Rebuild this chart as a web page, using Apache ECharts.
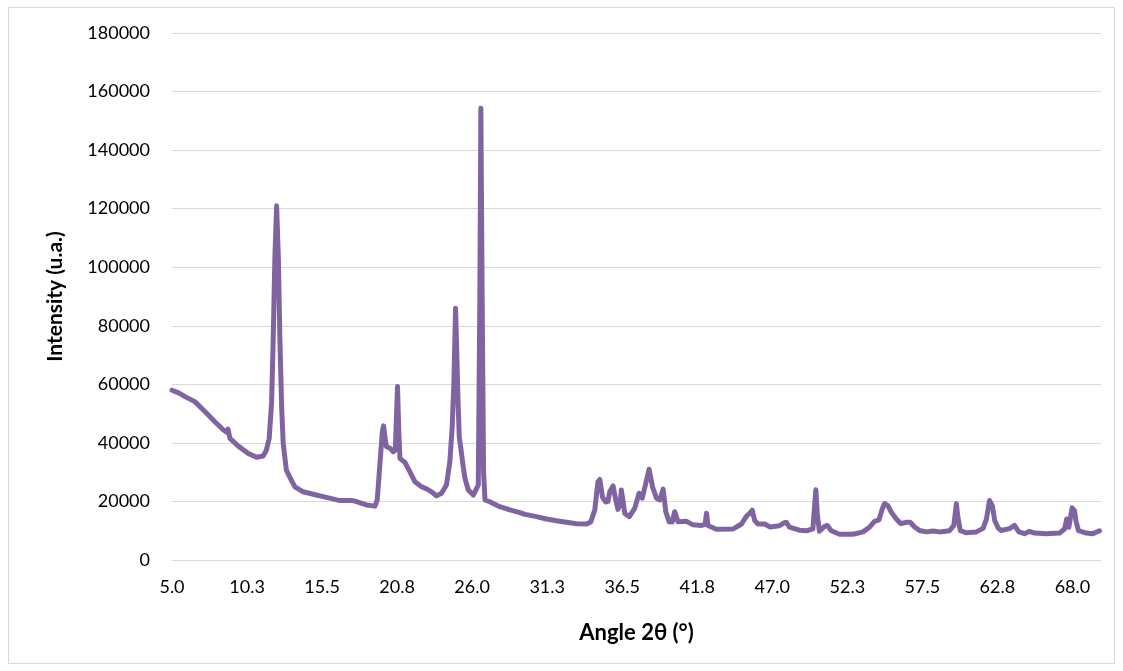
<!DOCTYPE html>
<html>
<head>
<meta charset="utf-8">
<script src="https://cdn.jsdelivr.net/npm/echarts@6/dist/echarts.min.js"></script>
<style>
html,body{margin:0;padding:0;background:#fff;}
#chart{width:1123px;height:671px;}
</style>
</head>
<body>
<div id="chart"></div>
<script>
// Angle 2θ (°)
const angles = [
5.0,5.5,5.91,6.6,7.3,8.0,8.6,8.85,8.92,9.05,9.64,10.34,10.92,11.38,11.6,11.8,11.97,12.08,12.2,12.32,
12.44,12.55,12.67,12.78,13.0,13.25,13.6,14.18,15.1,15.8,16.75,17.6,17.68,17.8,18.6,19.2,19.36,19.55,19.72,19.8,
19.9,20.0,20.25,20.48,20.62,20.7,20.78,20.86,20.95,21.3,21.64,22.0,22.46,22.85,22.95,23.16,23.5,23.86,24.2,24.44,
24.6,24.72,24.84,24.93,25.0,25.1,25.2,25.3,25.4,25.5,25.73,26.08,26.43,26.54,26.61,26.7,26.8,26.9,27.24,27.36,
27.47,27.94,28.64,29.34,29.7,29.8,30.5,31.2,31.9,32.6,33.3,34.0,34.3,34.58,34.8,34.93,35.12,35.35,35.5,35.63,
35.86,36.05,36.2,36.35,36.44,36.56,36.68,37.0,37.38,37.68,37.9,38.15,38.38,38.62,38.9,39.13,39.36,39.55,39.78,40.0,
40.17,40.4,41.0,41.46,42.04,42.3,42.4,42.5,43.1,44.27,44.85,45.2,45.43,45.6,45.77,46.0,46.47,46.82,47.5,47.86,
48.0,48.2,48.9,49.4,49.84,49.97,50.05,50.15,50.2,50.3,50.43,50.66,50.85,51.13,51.7,52.65,53.35,53.8,54.16,54.46,
54.7,54.86,55.1,55.33,55.68,56.0,56.4,56.65,56.96,57.3,57.8,58.24,58.7,59.4,59.7,59.88,59.99,60.16,60.58,61.28,
61.75,61.98,62.2,62.4,62.56,62.8,63.0,63.6,63.95,64.25,64.65,65.0,65.35,66.17,67.1,67.45,67.6,67.75,67.98,68.15,
68.26,68.43,68.97,69.43,69.9
];
// Intensity (u.a.)
const intensities = [
58000,57000,55800,54100,50700,47200,44400,43600,44700,41600,38900,36400,35100,35500,37500,41500,54000,75200,103600,121000,
103600,75200,52400,39900,30700,28200,25000,23300,22200,21400,20300,20300,20900,20100,18800,18400,20500,33000,44000,45800,
42000,38700,38200,37000,37500,48000,59300,45000,34700,33300,30200,26700,25000,24200,24600,23300,21900,22800,25600,33600,
45000,60000,86000,70000,56400,42000,38500,38500,31000,27900,23900,22200,25600,90500,154300,90500,30000,20500,19900,19700,
19300,18200,17100,16200,15600,15900,14800,14000,13400,12900,12400,12300,13000,17100,26700,27500,21500,19800,20000,23300,
25300,20500,17300,19000,23900,23700,15900,14800,17700,22800,21100,26200,31000,25000,21100,20500,24200,16500,13100,13000,
16500,13100,13200,12000,11800,12200,16000,11800,10500,10600,12300,15000,16000,17000,13500,12300,12300,11300,11700,12800,
12800,11200,10200,10000,10600,19000,24000,15500,16000,9800,9200,11500,11800,10000,8800,8800,9600,11200,13200,13700,
17500,19300,18500,16300,14000,12400,12900,12900,11300,10100,9600,9900,9600,10000,11800,19200,14500,10000,9300,9600,
10800,13900,20300,18500,13500,11000,10100,10700,11800,9600,9000,9800,9200,9000,9200,10600,14000,11200,17800,16800,
13000,10000,9200,9000,10000
];
const yTicks = [0,20000,40000,60000,80000,100000,120000,140000,160000,180000];

const seriesData = angles.map((a, i) => [a, intensities[i]]);

const chart = echarts.init(document.getElementById('chart'), null, {renderer: 'canvas'});
const font = 'Lato, "Open Sans", sans-serif';
chart.setOption({
  animation: false,
  backgroundColor: '#ffffff',
  graphic: [{
    type: 'rect',
    shape: {x: 8.5, y: 7.5, width: 1106, height: 656},
    style: {fill: 'none', stroke: '#d9d9d9', lineWidth: 1},
    silent: true
  }],
  grid: {left: 172, right: 22, top: 33, bottom: 111, containLabel: false},
  xAxis: {
    type: 'value',
    min: 5,
    max: 70,
    interval: 5.25,
    name: 'Angle 2θ (°)',
    nameLocation: 'middle',
    nameGap: 62,
    nameTextStyle: {fontFamily: font, fontSize: 22, fontWeight: 'bold', color: '#000'},
    axisLine: {show: false},
    axisTick: {show: false},
    splitLine: {show: false},
    axisLabel: {
      fontFamily: font, fontSize: 18, color: '#000', margin: 18,
      showMaxLabel: false,
      formatter: v => Number(v).toFixed(1)
    }
  },
  yAxis: {
    type: 'value',
    min: yTicks[0],
    max: yTicks[yTicks.length - 1],
    interval: yTicks[1] - yTicks[0],
    name: 'Intensity (u.a.)',
    nameLocation: 'middle',
    nameGap: 106,
    nameTextStyle: {fontFamily: font, fontSize: 21, fontWeight: 'bold', color: '#000'},
    axisLine: {show: false},
    axisTick: {show: false},
    splitLine: {show: true, lineStyle: {color: '#d9d9d9', width: 1}},
    axisLabel: {fontFamily: font, fontSize: 18, color: '#000', margin: 22, formatter: v => String(Math.round(v))}
  },
  series: [{
    type: 'line',
    data: seriesData,
    showSymbol: false,
    smooth: false,
    lineStyle: {color: '#8064a2', width: 5, join: 'round', cap: 'round'},
    itemStyle: {color: '#8064a2'}
  }]
});
</script>
</body>
</html>
